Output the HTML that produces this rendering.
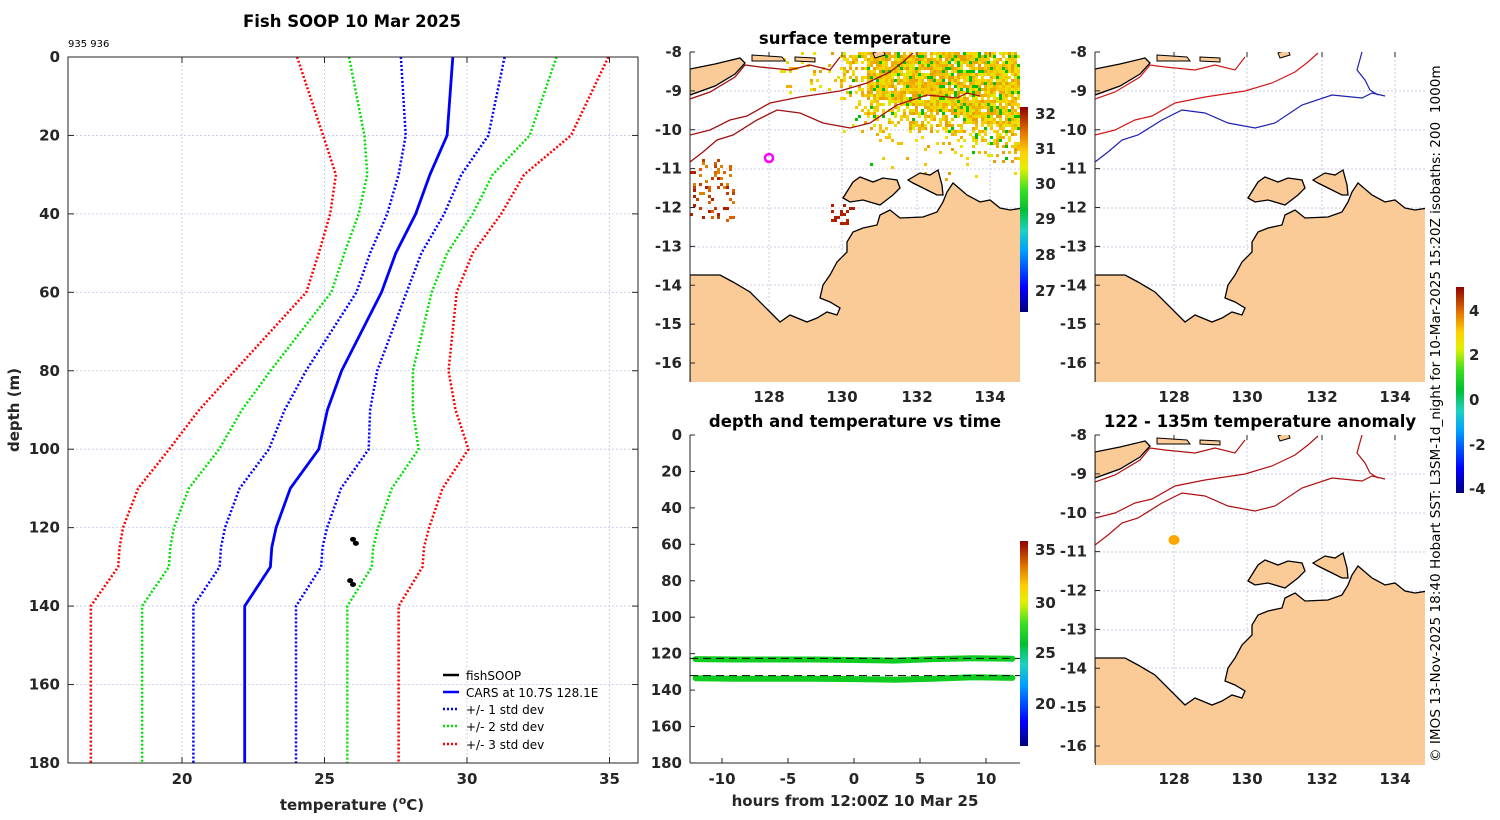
<!DOCTYPE html>
<html><head><meta charset="utf-8"><style>
html,body{margin:0;padding:0;background:#fff;}
svg{display:block;font-family:"DejaVu Sans","Liberation Sans",sans-serif;}
.tk{font-size:15px;font-weight:bold;fill:#262626;}
.ttl{font-size:16.5px;font-weight:bold;fill:#000;}
</style></head><body>
<svg id="fig" width="1500" height="820" viewBox="0 0 1500 820" xmlns="http://www.w3.org/2000/svg">
<defs>
<linearGradient id="jet" x1="0" y1="1" x2="0" y2="0">
<stop offset="0" stop-color="#00007f"/><stop offset="0.12" stop-color="#0000ff"/><stop offset="0.3" stop-color="#00a0ff"/><stop offset="0.4" stop-color="#20d0c0"/><stop offset="0.5" stop-color="#00c030"/><stop offset="0.6" stop-color="#40e020"/><stop offset="0.7" stop-color="#e0f000"/><stop offset="0.78" stop-color="#ffd000"/><stop offset="0.88" stop-color="#e07000"/><stop offset="1" stop-color="#900000"/>
</linearGradient>
<clipPath id="mclip"><rect x="0" y="7" width="330" height="330"/></clipPath>
<g id="land">
<path d="M0,230 L30,230 43,237 60,247 80,267 90,277 100,270 117,277 127,273 137,267 147,270 150,263 140,257 130,253 133,240 140,230 147,217 157,207 157,197 163,187 173,183 187,180 190,170 200,165 210,173 233,172 247,167 253,157 257,147 263,138 277,150 290,157 300,155 310,163 320,165 333,163 333,345 0,345 Z" fill="#fbcb97" stroke="#000" stroke-width="1.3"/>
<path d="M153,153 L163,137 170,132 183,137 193,133 207,135 210,143 203,150 190,160 173,155 160,157 Z" fill="#fbcb97" stroke="#000" stroke-width="1.3"/>
<path d="M218,135 L230,128 240,130 248,125 252,140 253,150 247,150 233,143 223,138 Z" fill="#fbcb97" stroke="#000" stroke-width="1.3"/>
<path d="M0,24 L25,19 50,13 55,18 45,29 25,41 0,50 Z" fill="#fbcb97" stroke="#000" stroke-width="1.3"/>
<path d="M62,10 L92,12 95,16 62,16 Z" fill="#fbcb97" stroke="#000" stroke-width="1"/>
<path d="M105,12 L125,13 125,17 105,16 Z" fill="#fbcb97" stroke="#000" stroke-width="1"/>
<path d="M183,8 L193,4 195,10 185,13 Z" fill="#fbcb97" stroke="#000" stroke-width="1"/>
</g>
<g id="grid">
<path d="M79,7V337M152,7V337M227,7V337M300,7V337M0,46H330M0,85H330M0,124H330M0,163H330M0,202H330M0,240H330M0,279H330M0,318H330" stroke="#b8c0e0" stroke-width="0.8" stroke-dasharray="2,2" fill="none"/>
</g>
<path id="c1" d="M0,90 L20,85 40,75 57,71 80,58 110,52 150,46 177,38 200,27 213,17 223,8" fill="none"/>
<path id="c2" d="M0,117 L13,107 27,95 43,90 67,75 87,65 110,68 133,78 160,83 180,78 207,60 237,50 267,53 277,48 290,51" fill="none"/>
<path id="c3" d="M0,54 L20,47 45,32 55,20 70,22 100,25 120,20 140,25 150,12" fill="none"/>
<path id="c4" d="M267,7 L262,25 270,35 275,45 283,50" fill="none"/>
</defs>

<!-- LEFT PROFILE -->
<g>
<text x="352" y="27" text-anchor="middle" class="ttl">Fish SOOP 10 Mar 2025</text>
<text x="68" y="47" font-size="10">935 936</text>
<g id="pgrid"></g>
<g id="plines"></g>
<g id="paxes"></g>
<text transform="translate(19,410) rotate(-90)" text-anchor="middle" class="tk" font-size="16.5">depth (m)</text>
<text x="352" y="810" text-anchor="middle" class="tk" font-size="16.5">temperature (<tspan dy="-6" font-size="11">o</tspan><tspan dy="6">C)</tspan></text>
<g font-size="12">
<line x1="443" y1="675" x2="459" y2="675" stroke="#000" stroke-width="2.5"/><text x="466" y="680">fishSOOP</text>
<line x1="443" y1="692" x2="459" y2="692" stroke="#0000ff" stroke-width="2.5"/><text x="466" y="697">CARS at 10.7S 128.1E</text>
<line x1="443" y1="709" x2="459" y2="709" stroke="#0000ff" stroke-width="2.5" stroke-dasharray="2,2"/><text x="466" y="714">+/- 1 std dev</text>
<line x1="443" y1="726" x2="459" y2="726" stroke="#00e000" stroke-width="2.5" stroke-dasharray="2,2"/><text x="466" y="731">+/- 2 std dev</text>
<line x1="443" y1="744" x2="459" y2="744" stroke="#ff0000" stroke-width="2.5" stroke-dasharray="2,2"/><text x="466" y="749">+/- 3 std dev</text>
</g>
</g>

<!-- MIDDLE TOP MAP -->
<g>
<text x="855" y="44" text-anchor="middle" class="ttl">surface temperature</text>
<g transform="translate(690,45)" clip-path="url(#mclip)">
<use href="#grid"/>
<g id="sstpix"></g>
<use href="#c1" stroke="#a01010" stroke-width="1.3"/><use href="#c2" stroke="#a01010" stroke-width="1.3"/><use href="#c3" stroke="#a01010" stroke-width="1.3"/>
<use href="#land"/>
<circle cx="79" cy="113" r="4" fill="none" stroke="#ff00ff" stroke-width="2.5"/>
</g>
<line x1="690" y1="52" x2="690" y2="382" stroke="#262626"/>
<g id="mtlab"></g>
<rect x="1020" y="107" width="8" height="205" fill="url(#jet)"/>
<g class="tk" font-size="13"><text x="1035" y="119">32</text><text x="1035" y="154">31</text><text x="1035" y="189">30</text><text x="1035" y="224">29</text><text x="1035" y="260">28</text><text x="1035" y="296">27</text></g>
</g>

<!-- RIGHT TOP MAP -->
<g>
<g transform="translate(1095,45)" clip-path="url(#mclip)">
<use href="#grid"/>
<use href="#c1" stroke="#d01818" stroke-width="1.2"/><use href="#c2" stroke="#2020b0" stroke-width="1.2"/><use href="#c3" stroke="#d01818" stroke-width="1.2"/><use href="#c4" stroke="#2020b0" stroke-width="1.2"/>
<use href="#land"/>
</g>
<line x1="1095" y1="52" x2="1095" y2="382" stroke="#262626"/>
<g id="rtlab"></g>
</g>

<!-- RIGHT BOTTOM MAP -->
<g>
<text x="1260" y="427" text-anchor="middle" class="ttl">122 - 135m temperature anomaly</text>
<g transform="translate(1095,428)" clip-path="url(#mclip)">
<use href="#grid"/>
<use href="#c1" stroke="#b01010" stroke-width="1.2"/><use href="#c2" stroke="#b01010" stroke-width="1.2"/><use href="#c3" stroke="#b01010" stroke-width="1.2"/><use href="#c4" stroke="#b01010" stroke-width="1.2"/>
<use href="#land"/>
<ellipse cx="79" cy="112" rx="5.5" ry="5" fill="#ffa500"/>
</g>
<line x1="1095" y1="435" x2="1095" y2="763" stroke="#262626"/>
<g id="rblab"></g>
<rect x="1456" y="287" width="8" height="206" fill="url(#jet)"/>
<g class="tk" font-size="13"><text x="1469" y="316">4</text><text x="1469" y="360">2</text><text x="1469" y="405">0</text><text x="1469" y="450">-2</text><text x="1469" y="494">-4</text></g>
</g>

<!-- MIDDLE BOTTOM TIME SERIES -->
<g>
<text x="855" y="427" text-anchor="middle" class="ttl">depth and temperature vs time</text>
<g id="tseries"></g>
<rect x="1020" y="541" width="8" height="205" fill="url(#jet)"/>
<g class="tk" font-size="13"><text x="1035" y="555">35</text><text x="1035" y="608">30</text><text x="1035" y="658">25</text><text x="1035" y="709">20</text></g>
<text x="855" y="806" text-anchor="middle" class="tk" font-size="16.5">hours from 12:00Z 10 Mar 25</text>
</g>

<text transform="translate(1440,762) rotate(-90)" font-size="13.6" fill="#000">© IMOS 13-Nov-2025 18:40 Hobart SST: L3SM-1d_night for 10-Mar-2025 15:20Z isobaths: 200&#160; 1000m</text>
</svg>
<script>
const depths=[0,20,30,40,50,60,80,90,100,110,120,125,130,140,180];
const meanT=[29.5,29.3,28.7,28.2,27.5,27.0,25.6,25.1,24.8,23.8,23.3,23.15,23.1,22.2,22.2];
const stdT=[1.82,1.45,1.1,1.0,0.9,0.88,1.25,1.5,1.75,1.78,1.79,1.78,1.78,1.8,1.8];
const fishT=[26.0,26.1,25.9,26.0];
const fishD=[123,124,133.5,134.5];
const xTicks=[20,25,30,35];
const yTicks=[0,20,40,60,80,100,120,140,160,180];

const NS='http://www.w3.org/2000/svg';
function mk(tag,attrs,parent){const e=document.createElementNS(NS,tag);for(const k in attrs)e.setAttribute(k,attrs[k]);parent.appendChild(e);return e;}
const px=t=>68+(t-16)*28.5;
const py=d=>57+d*3.922;

const pg=document.getElementById('pgrid');
xTicks.forEach(t=>{const l=mk('line',{x1:px(t),x2:px(t),y1:57,y2:763,stroke:'#c0c8e8','stroke-width':0.8,'stroke-dasharray':'2,2'},pg);

});
yTicks.forEach(d=>{const l=mk('line',{x1:68,x2:638,y1:py(d),y2:py(d),stroke:'#c0c8e8','stroke-width':0.8,'stroke-dasharray':'2,2'},pg);

});

const pl=document.getElementById('plines');
const curves=[[3,'#ff0000',true],[2,'#00e000',true],[1,'#0000ff',true],[0,'#0000ff',false]];
curves.forEach(([k,col,dot])=>{
  [1,-1].forEach(s=>{
    if(k===0&&s===-1)return;
    const pts=depths.map((d,i)=>px(meanT[i]+s*k*stdT[i]).toFixed(1)+','+py(d).toFixed(1)).join(' ');
    const p=mk('polyline',{points:pts,fill:'none',stroke:col,'stroke-width':dot?2.5:2.8},pl);
    if(dot)p.setAttribute('stroke-dasharray','2,2');
    
    
  });
});
fishD.forEach((d,i)=>{const c=mk('ellipse',{cx:px(fishT[i]),cy:py(d),rx:3,ry:2.5,fill:'#000'},pl);

});

const pa=document.getElementById('paxes');
mk('rect',{x:68,y:57,width:570,height:706,fill:'none',stroke:'#262626','stroke-width':1},pa);
xTicks.forEach(t=>{mk('line',{x1:px(t),x2:px(t),y1:763,y2:757,stroke:'#262626'},pa);mk('line',{x1:px(t),x2:px(t),y1:57,y2:63,stroke:'#262626'},pa);
const tx=mk('text',{x:px(t),y:784,'text-anchor':'middle',class:'tk'},pa);tx.textContent=t;

});
yTicks.forEach(d=>{mk('line',{x1:68,x2:74,y1:py(d),y2:py(d),stroke:'#262626'},pa);mk('line',{x1:632,x2:638,y1:py(d),y2:py(d),stroke:'#262626'},pa);
const tx=mk('text',{x:60,y:py(d)+5,'text-anchor':'end',class:'tk'},pa);tx.textContent=d;

});

// map labels
const lons=[128,130,132,134], lats=[-8,-9,-10,-11,-12,-13,-14,-15,-16];
function mapLabels(id,ox,oy,xlabY){
  const g=document.getElementById(id);
  lons.forEach((lo,i)=>{const x=ox+[79,152,227,300][i];const t=mk('text',{x:x,y:xlabY,'text-anchor':'middle',class:'tk'},g);t.textContent=lo;
  
  
  mk('line',{x1:x,x2:x,y1:oy+7,y2:oy+12,stroke:'#262626'},g);});
  lats.forEach((la,i)=>{const y=oy+7+i*38.875;const t=mk('text',{x:ox-8,y:y+5,'text-anchor':'end',class:'tk'},g);t.textContent=la;
  
  
  mk('line',{x1:ox,x2:ox+5,y1:y,y2:y,stroke:'#262626'},g);});
}
mapLabels('mtlab',690,45,402);
mapLabels('rtlab',1095,45,402);
mapLabels('rblab',1095,428,784);

// sst pixels (satellite image texture)
let seed=12345;function rnd(){seed=(seed*1103515245+12345)%2147483648;return seed/2147483648;}
const sp=document.getElementById('sstpix');
const cols=['#f0c000','#f5d000','#f0b000','#e8a000','#f0e000','#f7c800','#e0e800','#f0a800','#f5d800','#00c000'];
for(let x=150;x<333;x+=3){
  for(let y=7;y<140;y+=3){
    const edge=55+(x-150)*0.22;
    let p;
    if(y<edge-10) p=0.9; else if(y<edge+10) p=0.55; else if(y<edge+30) p=0.15; else p=0.02;
    if(x<175) p*=0.45;
    if(rnd()<p) mk('rect',{x:x,y:y,width:3,height:3,fill:cols[Math.floor(rnd()*cols.length)]},sp);
  }
}
for(let x=90;x<150;x+=3){for(let y=7;y<50;y+=3){if(rnd()<0.08) mk('rect',{x:x,y:y,width:3,height:3,fill:cols[Math.floor(rnd()*9)]},sp);}}
for(let i=0;i<70;i++){
  const x=rnd()*45,y=115+rnd()*60;
  mk('rect',{x:Math.floor(x/3)*3,y:Math.floor(y/3)*3,width:3,height:3,fill:['#c04000','#e06000','#b02000','#e08000'][Math.floor(rnd()*4)]},sp);
}
for(let i=0;i<20;i++){
  const x=140+rnd()*25,y=160+rnd()*20;
  mk('rect',{x:Math.floor(x/3)*3,y:Math.floor(y/3)*3,width:3,height:3,fill:'#b02000'},sp);
}

// time series
const hours=[-12,-9,-6,-3,0,3,6,9,12];
const depthA=[123,123.2,123.2,123.2,123.5,123.8,123,122.5,122.8];
const depthB=[133.5,133.8,133.8,133.8,134,134.3,133.8,133,133.3];
const tempA=[25.5,25.5,25.4,25.5,25.5,25.6,25.4,25.3,25.4];
const dashDepths=[121.5,131];
const tTicks=[-10,-5,0,5,10];
const dTicks=[0,20,40,60,80,100,120,140,160,180];
const tx_=h=>854+h*13.2, ty_=d=>435+d*1.822;
const ts=document.getElementById('tseries');
mk('line',{x1:690,x2:690,y1:435,y2:763,stroke:'#262626'},ts);
mk('line',{x1:690,x2:1020,y1:763,y2:763,stroke:'#262626'},ts);
[depthA,depthB].forEach((arr,k)=>{
  const pts=hours.map((h,i)=>tx_(h).toFixed(1)+','+ty_(arr[i]).toFixed(1)).join(' ');
  const p=mk('polyline',{points:pts,fill:'none',stroke:'#10cc20','stroke-width':6,'stroke-linecap':'round'},ts);
  
  
});
dashDepths.forEach(d=>{const l=mk('line',{x1:690,x2:1020,y1:ty_(d)+2,y2:ty_(d)+2,stroke:'#000','stroke-width':1,'stroke-dasharray':'8,5'},ts);

});
tTicks.forEach(h=>{mk('line',{x1:tx_(h),x2:tx_(h),y1:763,y2:758,stroke:'#262626'},ts);
const t=mk('text',{x:tx_(h),y:784,'text-anchor':'middle',class:'tk'},ts);t.textContent=h;

});
dTicks.forEach(d=>{mk('line',{x1:690,x2:695,y1:ty_(d),y2:ty_(d),stroke:'#262626'},ts);
const t=mk('text',{x:682,y:ty_(d)+5,'text-anchor':'end',class:'tk'},ts);t.textContent=d;

});
</script>
</body></html>
